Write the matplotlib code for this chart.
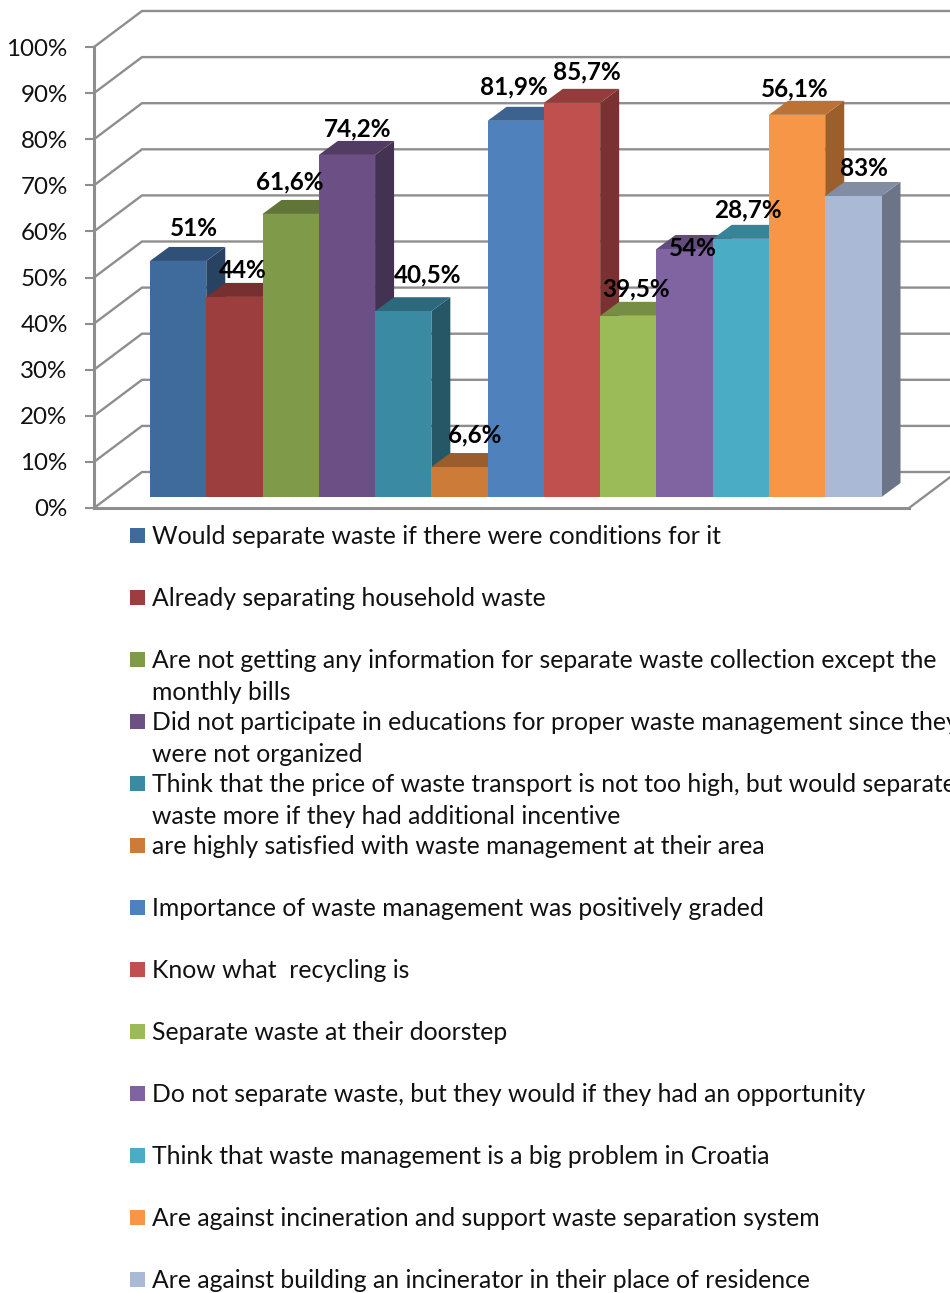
import matplotlib
matplotlib.use("Agg")
import matplotlib.pyplot as plt
from matplotlib.patches import Polygon, Rectangle
from matplotlib.ticker import FuncFormatter

plt.rcParams['font.family'] = ['Lato', 'DejaVu Sans']

# ---------- data ----------
bar_values = [51.2, 43.4, 61.4, 74.2, 40.3, 6.5, 81.6, 85.5, 39.3, 53.8, 56.0, 82.9, 65.3]
bar_labels = ['51%', '44%', '61,6%', '74,2%', '40,5%', '6,6%', '81,9%', '85,7%',
              '39,5%', '54%', '28,7%', '56,1%', '83%']
legend_labels = [
    'Would separate waste if there were conditions for it',
    'Already separating household waste',
    'Are not getting any information for separate waste collection except the\nmonthly bills',
    'Did not participate in educations for proper waste management since they\nwere not organized',
    'Think that the price of waste transport is not too high, but would separate\nwaste more if they had additional incentive',
    'are highly satisfied with waste management at their area',
    'Importance of waste management was positively graded',
    'Know what  recycling is',
    'Separate waste at their doorstep',
    'Do not separate waste, but they would if they had an opportunity',
    'Think that waste management is a big problem in Croatia',
    'Are against incineration and support waste separation system',
    'Are against building an incinerator in their place of residence',
]
bar_colors = ['#3F6A9C', '#9D3E3E', '#7F9A48', '#6C4F84', '#3A8AA3', '#CC7B38', '#4F81BD',
              '#C0504D', '#9BBB59', '#8064A2', '#4BACC6', '#F79646', '#AAB9D6']
y_ticks = [0, 10, 20, 30, 40, 50, 60, 70, 80, 90, 100]

# ---------- layout (pixels) ----------
W, H = 950, 1293
AX_L, AX_R, AX_B, AX_T = 94, 909, 508, 47
BAR_L, BAR_R, BAR_B = 150, 881.5, 497
PX_PER_PCT = (AX_B - AX_T) / 100
WALL_DX, WALL_DY = 48, 36
BAR_DX, BAR_DY = 19, 14
GREY = '#8E8E8E'
label_centres = [(194, 229), (243, 270), (290, 182), (358, 129), (428, 275), (475, 435),
                 (514, 87), (587, 72), (636, 289), (693, 248), (748, 210), (795, 89), (864, 169)]
LEG_Y0, LEG_STEP, LEG_LINE = 535, 62, 33
TEXT_NUDGE = 1


def box(l, r, b, t):
    return [l / W, 1 - b / H, (r - l) / W, (b - t) / H]


fig = plt.figure(figsize=(W / 100, H / 100), dpi=100, facecolor='white')

# walls, gridlines and value axis
wall = fig.add_axes(box(AX_L, AX_R, AX_B, AX_T))
wall.set_xlim(AX_L, AX_R)
wall.set_ylim(0, 100)
wall.patch.set_visible(False)
for s in ('top', 'right'):
    wall.spines[s].set_visible(False)
for s in ('left', 'bottom'):
    wall.spines[s].set_color(GREY)
    wall.spines[s].set_linewidth(2.2)
wall.set_xticks([])
wall.set_yticks(y_ticks)
wall.yaxis.set_major_formatter(FuncFormatter(lambda v, _: f'{v:.0f}%'))
wall.tick_params(axis='y', length=6.5, width=1.5, color=GREY, pad=12.5, labelsize=17.4, labelcolor='#111111')
for t in wall.get_yticklabels():
    t.set_y(t.get_position()[1])
ddy = WALL_DY / PX_PER_PCT
for v in y_ticks:
    wall.plot([AX_L, AX_L + WALL_DX, W + 5], [v, v + ddy, v + ddy], color=GREY, lw=1.7,
              clip_on=False, solid_joinstyle='miter')
wall.plot([AX_R, AX_R + WALL_DX], [0, ddy], color=GREY, lw=1.7, clip_on=False)

# bars
ax = fig.add_axes(box(BAR_L, BAR_R, BAR_B, BAR_B - 100 * PX_PER_PCT))
ax.set_xlim(-0.5, len(bar_values) - 0.5)
ax.set_ylim(0, 100)
ax.axis('off')
ax.patch.set_visible(False)
unit = (BAR_R - BAR_L) / len(bar_values)
dx = BAR_DX / unit
dy = BAR_DY / PX_PER_PCT


def shade(c, f):
    rgb = matplotlib.colors.to_rgb(c)
    return tuple(x * f for x in rgb)


for i, (v, c) in enumerate(zip(bar_values, bar_colors)):
    l, r = i - 0.5, i + 0.5
    ax.add_patch(Polygon([(r, 0), (r + dx, dy), (r + dx, v + dy), (r, v)], closed=True,
                         fc=shade(c, 0.63), ec='none', clip_on=False, zorder=2 + i))
    ax.add_patch(Polygon([(l, v), (r, v), (r + dx, v + dy), (l + dx, v + dy)], closed=True,
                         fc=shade(c, 0.76), ec='none', clip_on=False, zorder=2 + i))
    ax.bar(i, v, width=1.0, color=c, edgecolor='none', zorder=2 + i, clip_on=False)

# overlay in pixel coordinates: data labels and legend
ov = fig.add_axes([0, 0, 1, 1])
ov.set_xlim(0, W)
ov.set_ylim(H, 0)
ov.axis('off')
ov.patch.set_visible(False)
for lab, (x, y) in zip(bar_labels, label_centres):
    ov.text(x, y, lab, ha='center', va='center', fontsize=17.5, fontweight='bold', color='black')
for i, (lab, c) in enumerate(zip(legend_labels, bar_colors)):
    y = LEG_Y0 + i * LEG_STEP
    ov.add_patch(Rectangle((130, y - 7.5), 15, 15, fc=c, ec='none'))
    for j, line in enumerate(lab.split('\n')):
        ov.text(152, y + j * LEG_LINE + TEXT_NUDGE, line, ha='left', va='center', fontsize=17.8, color='#111111')

fig.savefig('out.png', dpi=100)
